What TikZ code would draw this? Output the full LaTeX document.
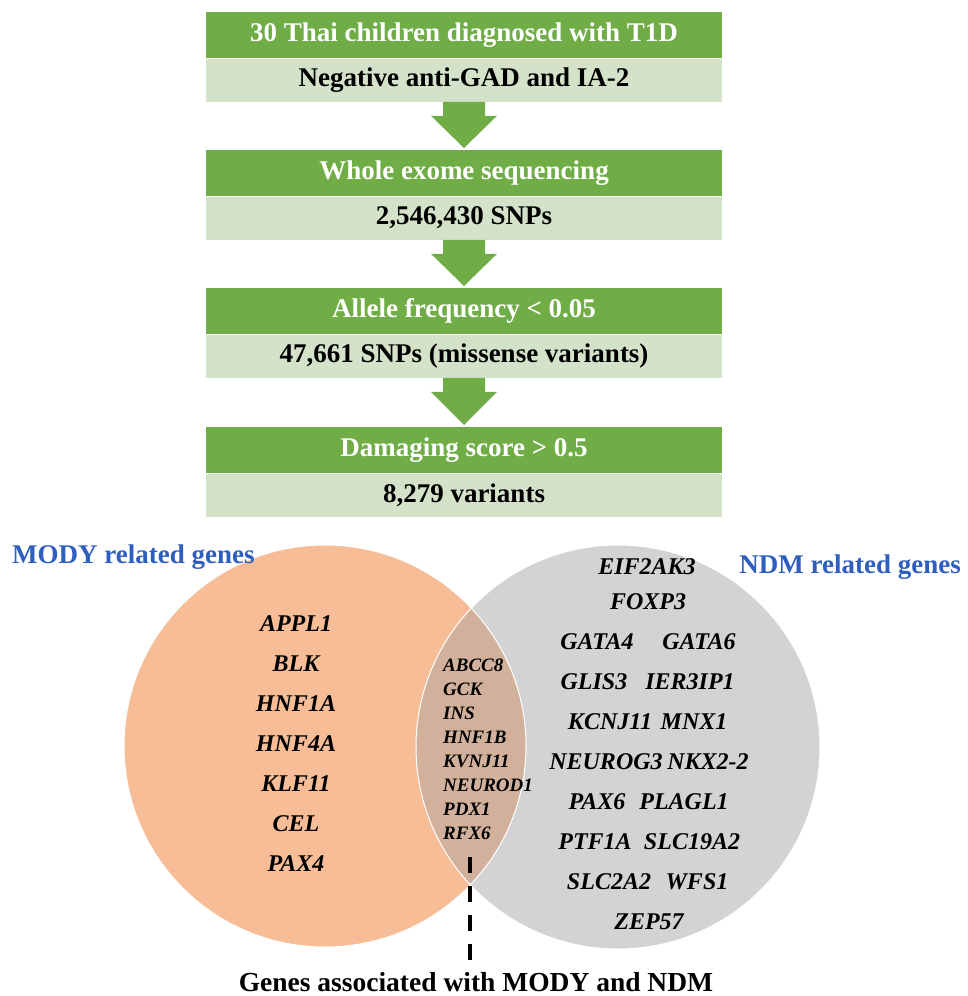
\documentclass[tikz,border=0pt]{standalone}
\usepackage{fontspec}
\setmainfont{Liberation Serif}
\usetikzlibrary{calc}
\definecolor{dgreen}{HTML}{70AD47}
\definecolor{lgreen}{HTML}{D3E2C8}
\definecolor{orng}{HTML}{F6BD96}
\definecolor{gry}{HTML}{D3D3D3}
\definecolor{lens}{HTML}{D2B19C}
\definecolor{ttl}{HTML}{2E5FBF}
\begin{document}
\begin{tikzpicture}[x=1pt,y=-1pt,
  headbox/.style={fill=dgreen, minimum width=516pt, minimum height=46pt, inner sep=0pt, text=white, font=\fontsize{27}{29}\selectfont\bfseries, anchor=north},
  subbox/.style={fill=lgreen, minimum width=516pt, minimum height=43pt, inner sep=0pt, text=black, font=\fontsize{27}{29}\selectfont\bfseries, anchor=north},
  gene/.style={inner sep=0pt, font=\fontsize{24}{26}\selectfont\bfseries\itshape},
  lensgene/.style={inner sep=0pt, anchor=west, font=\fontsize{19}{22}\selectfont\bfseries\itshape},
  settitle/.style={inner sep=0pt, text=ttl, font=\fontsize{27}{29}\selectfont\bfseries},
  bigarrow/.style={fill=dgreen}
]
\useasboundingbox (0,0) rectangle (967,996);

% flow boxes
\node[headbox] (h1) at (464,12) {30 Thai children diagnosed with T1D};
\node[subbox] (s1) at (h1.south) {Negative anti-GAD and IA-2};
\node[headbox] (h2) at (464,150) {Whole exome sequencing};
\node[subbox] (s2) at (h2.south) {2,546,430 SNPs};
\node[headbox] (h3) at (464,288) {Allele frequency < 0.05};
\node[subbox] (s3) at (h3.south) {47,661 SNPs (missense variants)};
\node[headbox] (h4) at (464,427) {Damaging score > 0.5};
\node[subbox] (s4) at (h4.south) {8,279 variants};

% block arrows
\foreach \a/\b in {s1/h2,s2/h3,s3/h4}{
  \fill[bigarrow] ($(\a.south)+(-21,0)$) -- ($(\a.south)+(21,0)$) -- ($(\a.south)+(21,14)$)
    -- ($(\a.south)+(33,14)$) -- ($(\b.north)+(0,-2)$) -- ($(\a.south)+(-33,14)$)
    -- ($(\a.south)+(-21,14)$) -- cycle;
}

% Venn circles
\node[circle, fill=orng, minimum size=402pt, inner sep=0pt] (mody) at (325,746) {};
\node[circle, fill=gry, minimum size=404pt, inner sep=0pt] (ndm) at (618,747) {};
\begin{scope}
  \clip (325,746) circle (201);
  \fill[lens] (618,747) circle (202);
\end{scope}
\draw[white, line width=1pt] (325,746) circle (201);
\draw[white, line width=1pt] (618,747) circle (202);

% titles
\node[settitle, anchor=west] (tmody) at (12,557) {MODY related genes};
\node[settitle, anchor=east] (tndm) at (961,567) {NDM related genes};

% MODY genes
\foreach \g [count=\i from 0] in {APPL1,BLK,HNF1A,HNF4A,KLF11,CEL,PAX4}{
  \node[gene] (m\i) at (296,624+40*\i) {\g};
}

% shared genes
\foreach \g [count=\i from 0] in {ABCC8,GCK,INS,HNF1B,KVNJ11,NEUROD1,PDX1,RFX6}{
  \node[lensgene] (c\i) at (443,665+24*\i) {\g};
}

% NDM genes
\node[gene] (n1) at (647,567) {EIF2AK3};
\node[gene] (n2) at (648,602) {FOXP3};
\node[gene] (n3a) at (597,642) {GATA4};
\node[gene] (n3b) at (699,642) {GATA6};
\node[gene] (n4a) at (594,682) {GLIS3};
\node[gene] (n4b) at (690,682) {IER3IP1};
\node[gene] (n5a) at (610,722) {KCNJ11};
\node[gene] (n5b) at (694,722) {MNX1};
\node[gene] (n6a) at (606,762) {NEUROG3};
\node[gene] (n6b) at (708,762) {NKX2-2};
\node[gene] (n7a) at (597,802) {PAX6};
\node[gene] (n7b) at (684,802) {PLAGL1};
\node[gene] (n8a) at (595,842) {PTF1A};
\node[gene] (n8b) at (692,842) {SLC19A2};
\node[gene] (n9a) at (609,882) {SLC2A2};
\node[gene] (n9b) at (697,882) {WFS1};
\node[gene] (n10) at (649,922) {ZEP57};

% bottom label and dashed connector
\node[inner sep=0pt, font=\fontsize{27.5}{29}\selectfont\bfseries] (shared) at (476,982) {Genes associated with MODY and NDM};
\coordinate (dtop) at (470,857);
\draw[black, line width=4pt, dash pattern=on 16pt off 13pt] (dtop) -- (dtop |- shared.north);
\end{tikzpicture}
\end{document}
